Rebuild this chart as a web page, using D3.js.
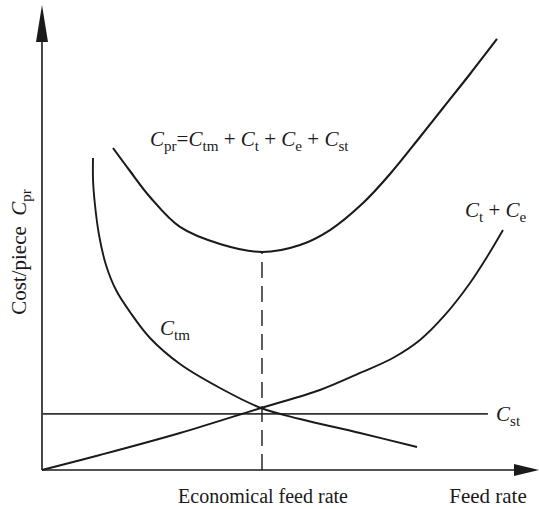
<!DOCTYPE html>
<html><head><meta charset="utf-8">
<script src="https://cdn.jsdelivr.net/npm/d3@7"></script>
<style>body{margin:0;background:#fff}svg{display:block}text{font-family:"Liberation Serif","Times New Roman",serif;fill:#1a1a1a}</style>
</head><body>
<script>
// Feed rate (x) values and cost (y) values, in arbitrary chart units
const ctmX = [1.063,1.063,1.104,1.188,1.333,1.542,1.833,2.25,2.875,3.708,4.563,5.375,6.625,7.813];
const ctmY = [6.783,6.304,5.761,5.109,4.457,3.913,3.435,2.870,2.304,1.783,1.348,1.109,0.804,0.5];
const cteX = [0,1.208,2.875,4.563,5.79,6.625,7.31,7.875,8.396,8.917,9.27,9.604];
const cteY = [0,0.326,0.804,1.348,1.739,2.109,2.435,2.826,3.37,4.065,4.63,5.217];
const cprX = [1.479,1.833,2.25,2.875,3.708,4.583,5.375,6.0,6.688,7.25,7.875,8.354,8.917,9.479];
const cprY = [7.0,6.5,5.935,5.283,4.913,4.739,4.891,5.217,5.804,6.435,7.239,7.870,8.609,9.37];
const cstValue = 1.22;
const cstEndX = 9.29;
const economicalX = 4.583;
const economicalY = 4.739;
const xAxisLabels = ["Economical feed rate", "Feed rate"];
const yAxisLabel = "Cost/piece";

const W = 539, H = 509;
const x = d3.scaleLinear().domain([0, 10]).range([42, 522]);
const y = d3.scaleLinear().domain([0, 10]).range([470, 10]);

const svg = d3.select("body").append("svg").attr("width", W).attr("height", H);
const ink = "#1a1a1a";

// axes
svg.append("line").attr("x1", x(0)).attr("y1", y(0)).attr("x2", x(0)).attr("y2", 42)
  .attr("stroke", ink).attr("stroke-width", 1.6);
svg.append("path").attr("d", `M${x(0)},5 L${x(0)-6},42 L${x(0)+6},42 Z`).attr("fill", ink);
svg.append("line").attr("x1", x(0)).attr("y1", y(0)).attr("x2", 515).attr("y2", y(0))
  .attr("stroke", ink).attr("stroke-width", 1.6);
svg.append("path").attr("d", `M539,${y(0)} L514,${y(0)-6} L514,${y(0)+6} Z`).attr("fill", ink);

const line = d3.line().x(d => x(d[0])).y(d => y(d[1])).curve(d3.curveCatmullRom.alpha(0.5));
function draw(xs, ys, w) {
  svg.append("path").attr("d", line(xs.map((v, i) => [v, ys[i]])))
    .attr("fill", "none").attr("stroke", ink).attr("stroke-width", w);
}
// Cst
svg.append("line").attr("x1", x(0)).attr("x2", x(cstEndX)).attr("y1", y(cstValue)).attr("y2", y(cstValue))
  .attr("stroke", "#333").attr("stroke-width", 1.6);
// dashed
svg.append("line").attr("x1", x(economicalX)).attr("x2", x(economicalX)).attr("y1", y(0)).attr("y2", y(economicalY))
  .attr("stroke", ink).attr("stroke-width", 1.4).attr("stroke-dasharray", "16,8");
draw(cteX, cteY, 1.9);
draw(ctmX, ctmY, 1.9);
draw(cprX, cprY, 2.1);

// labels
function label(xp, yp, parts, size) {
  const t = svg.append("text").attr("x", xp).attr("y", yp).attr("font-size", size);
  parts.forEach(p => {
    const s = t.append("tspan").text(p[0]);
    if (p[1] === "C") s.attr("font-style", "italic");
    if (p[1] === "sub") s.attr("font-size", size * 0.72).attr("dy", 5);
    if (p[1] === "up") s.attr("dy", -5);
  });
  return t;
}
label(150, 146, [["C","C"],["pr","sub"],["=","up"],["C","C"],["tm","sub"],[" + ","up"],["C","C"],["t","sub"],[" + ","up"],["C","C"],["e","sub"],[" + ","up"],["C","C"],["st","sub"]], 21);
label(160, 335, [["C","C"],["tm","sub"]], 21);
label(465, 217, [["C","C"],["t","sub"],[" + ","up"],["C","C"],["e","sub"]], 21);
label(496, 421, [["C","C"],["st","sub"]], 21);

svg.append("text").attr("x", 263).attr("y", 503).attr("text-anchor", "middle").attr("font-size", 20).text(xAxisLabels[0]);
svg.append("text").attr("x", 488).attr("y", 503).attr("text-anchor", "middle").attr("font-size", 21).text(xAxisLabels[1]);

const yl = svg.append("text").attr("transform", "translate(26,252) rotate(-90)").attr("text-anchor", "middle").attr("font-size", 21);
yl.append("tspan").text(yAxisLabel + "\u2002");
yl.append("tspan").attr("font-style", "italic").text("C");
yl.append("tspan").attr("font-size", 15).attr("dy", 5).text("pr");
</script>
</body></html>
